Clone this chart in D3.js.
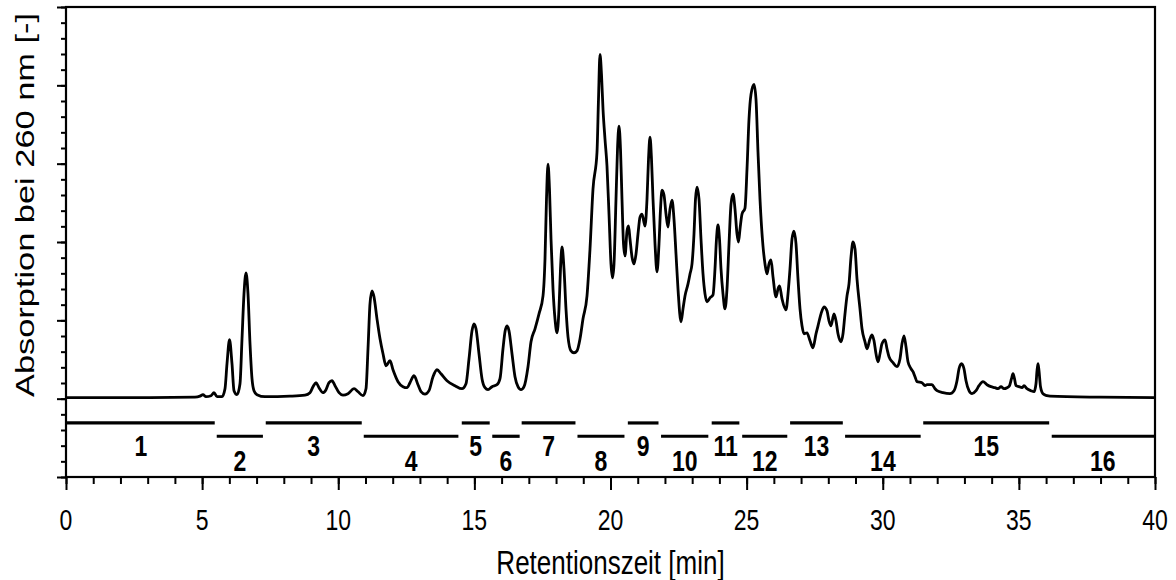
<!DOCTYPE html>
<html><head><meta charset="utf-8">
<script src="https://cdn.jsdelivr.net/npm/d3@7"></script>
<style>body{margin:0;background:#fff}svg{display:block}</style>
</head><body>
<svg id="chart" width="1176" height="580"></svg>
<script>
// Chromatogram trace: [retention time (min), absorption (a.u., 1 = one major tick)]
const trace = [[0,0.013],[3.085,0.013],[4.738,0.019],[4.922,0.032],[5.032,0.051],[5.142,0.025],[5.326,0.038],[5.436,0.076],[5.546,0.025],[5.730,0.025],[5.840,0.127],[5.914,0.446],[6.006,0.752],[6.097,0.446],[6.171,0.102],[6.281,0.051],[6.391,0.191],[6.465,0.764],[6.538,1.338],[6.612,1.605],[6.685,1.338],[6.759,0.701],[6.832,0.255],[6.905,0.102],[7.016,0.051],[7.309,0.025],[8.228,0.032],[8.779,0.045],[8.962,0.076],[9.073,0.153],[9.183,0.204],[9.293,0.140],[9.440,0.076],[9.550,0.115],[9.660,0.204],[9.770,0.229],[9.881,0.166],[10.028,0.076],[10.174,0.045],[10.358,0.064],[10.579,0.127],[10.725,0.089],[10.909,0.038],[11.019,0.127],[11.093,0.637],[11.166,1.210],[11.240,1.376],[11.313,1.299],[11.423,1.019],[11.534,0.764],[11.644,0.573],[11.754,0.420],[11.901,0.484],[12.011,0.369],[12.195,0.217],[12.378,0.153],[12.525,0.140],[12.635,0.204],[12.782,0.293],[12.929,0.178],[13.040,0.089],[13.186,0.057],[13.333,0.102],[13.480,0.280],[13.627,0.369],[13.774,0.318],[13.994,0.229],[14.288,0.166],[14.545,0.127],[14.692,0.191],[14.803,0.510],[14.913,0.866],[14.986,0.955],[15.060,0.892],[15.170,0.573],[15.280,0.255],[15.390,0.140],[15.501,0.115],[15.647,0.153],[15.831,0.178],[15.941,0.255],[16.051,0.637],[16.125,0.854],[16.198,0.930],[16.272,0.866],[16.382,0.573],[16.492,0.280],[16.602,0.153],[16.713,0.115],[16.823,0.153],[16.970,0.408],[17.080,0.726],[17.227,0.892],[17.374,1.083],[17.521,1.312],[17.594,1.783],[17.649,2.548],[17.704,2.994],[17.759,2.675],[17.815,2.038],[17.888,1.401],[17.961,1.019],[18.035,0.841],[18.108,1.146],[18.163,1.656],[18.219,1.936],[18.292,1.656],[18.365,1.146],[18.439,0.790],[18.549,0.611],[18.659,0.586],[18.770,0.611],[18.880,0.764],[18.990,1.019],[19.137,1.312],[19.247,1.911],[19.357,2.675],[19.504,3.146],[19.559,3.822],[19.614,4.395],[19.669,4.140],[19.725,3.694],[19.798,3.312],[19.871,2.968],[19.945,2.357],[20.018,1.720],[20.073,1.541],[20.129,1.720],[20.202,2.548],[20.257,3.185],[20.312,3.478],[20.367,3.185],[20.422,2.548],[20.478,1.975],[20.533,1.822],[20.606,2.140],[20.661,2.204],[20.716,2.038],[20.790,1.809],[20.863,1.720],[20.937,1.847],[21.010,2.102],[21.084,2.318],[21.157,2.357],[21.267,2.204],[21.341,2.548],[21.396,3.057],[21.451,3.338],[21.506,3.057],[21.561,2.548],[21.635,1.975],[21.708,1.618],[21.781,1.975],[21.837,2.420],[21.892,2.662],[21.965,2.599],[22.039,2.357],[22.112,2.191],[22.185,2.420],[22.259,2.535],[22.332,2.293],[22.406,1.847],[22.479,1.401],[22.590,0.981],[22.663,1.146],[22.736,1.312],[22.847,1.465],[22.920,1.592],[22.994,1.720],[23.067,2.102],[23.122,2.548],[23.178,2.701],[23.251,2.548],[23.324,2.038],[23.398,1.592],[23.471,1.338],[23.545,1.236],[23.655,1.287],[23.765,1.325],[23.838,1.656],[23.893,2.038],[23.949,2.217],[24.004,2.038],[24.059,1.656],[24.132,1.338],[24.206,1.146],[24.279,1.401],[24.353,1.975],[24.426,2.484],[24.500,2.611],[24.573,2.420],[24.647,2.102],[24.702,2.000],[24.757,2.166],[24.830,2.357],[24.940,2.433],[25.014,2.930],[25.087,3.567],[25.161,3.885],[25.271,4.013],[25.344,3.822],[25.418,3.146],[25.491,2.548],[25.601,1.949],[25.675,1.720],[25.748,1.592],[25.822,1.720],[25.895,1.771],[25.969,1.554],[26.079,1.299],[26.152,1.401],[26.208,1.439],[26.300,1.274],[26.446,1.134],[26.520,1.338],[26.593,1.656],[26.667,2.038],[26.740,2.140],[26.814,1.975],[26.887,1.529],[26.961,1.146],[27.034,0.930],[27.107,0.828],[27.218,0.841],[27.328,0.739],[27.438,0.650],[27.548,0.828],[27.622,0.930],[27.732,1.083],[27.842,1.172],[27.952,1.121],[28.026,0.994],[28.099,0.930],[28.209,1.083],[28.283,0.994],[28.356,0.828],[28.467,0.726],[28.540,0.828],[28.613,1.083],[28.687,1.312],[28.760,1.465],[28.834,1.809],[28.907,2.000],[28.981,1.911],[29.054,1.529],[29.164,1.146],[29.238,0.892],[29.348,0.726],[29.421,0.637],[29.532,0.764],[29.605,0.815],[29.679,0.739],[29.752,0.573],[29.826,0.471],[29.899,0.573],[29.972,0.701],[30.083,0.751],[30.156,0.637],[30.230,0.535],[30.377,0.459],[30.523,0.408],[30.634,0.510],[30.707,0.701],[30.781,0.802],[30.854,0.662],[30.927,0.471],[31.038,0.382],[31.111,0.344],[31.185,0.280],[31.258,0.217],[31.442,0.204],[31.552,0.166],[31.625,0.178],[31.809,0.178],[31.919,0.127],[31.993,0.102],[32.213,0.076],[32.470,0.064],[32.617,0.102],[32.727,0.229],[32.801,0.382],[32.893,0.446],[32.984,0.382],[33.058,0.229],[33.168,0.102],[33.278,0.064],[33.425,0.102],[33.535,0.166],[33.682,0.217],[33.829,0.178],[33.976,0.153],[34.123,0.140],[34.233,0.127],[34.344,0.153],[34.454,0.127],[34.564,0.140],[34.656,0.166],[34.729,0.255],[34.784,0.318],[34.839,0.255],[34.894,0.166],[35.005,0.153],[35.115,0.140],[35.188,0.166],[35.298,0.127],[35.445,0.102],[35.556,0.089],[35.629,0.191],[35.666,0.357],[35.702,0.446],[35.739,0.357],[35.795,0.153],[35.886,0.064],[36.033,0.038],[36.143,0.032],[37.980,0.019],[40,0.013]];

// Collected fractions
const fractionLabels = ["1","2","3","4","5","6","7","8","9","10","11","12","13","14","15","16"];
const fractionStart = [0, 5.5, 7.3, 10.9, 14.5, 15.62, 16.7, 18.75, 20.6, 21.82, 23.68, 24.8, 26.56, 28.58, 31.45, 36.17];
const fractionEnd   = [5.5, 7.27, 10.9, 14.45, 15.6, 16.7, 18.75, 20.55, 21.8, 23.63, 24.77, 26.53, 28.57, 31.43, 36.15, 40];
const fractionRow   = [0,1,0,1,0,1,0,1,0,1,0,1,0,1,0,1]; // 0 = upper bar, 1 = lower bar
const fractionLevel = [-0.31, -0.48]; // bar heights in y units (upper, lower)

const xMajorTicks = [0,5,10,15,20,25,30,35,40];
const xMinorTicks = d3.range(0, 41, 1);
const yMajorTicks = [-1,0,1,2,3,4,5];
const yMinorTicks = d3.range(-1, 5.0001, 0.2);
const xTitle = "Retentionszeit [min]";
const yTitle = "Absorption bei 260 nm [-]";

const svg = d3.select("#chart");
const L = 66, R = 1155, T = 7, B = 477;
const x = d3.scaleLinear().domain([0, 40]).range([L, R]);
const y = d3.scaleLinear().domain([-1, 5]).range([B, T]);
const FONT = "'Liberation Sans', Arial, Helvetica, sans-serif";
const SY = 1.25; // vertical stretch of glyphs in the original

function styleAxis(g){ g.select(".domain").remove(); g.selectAll("line").attr("stroke","#000").attr("stroke-width",2); g.selectAll("text").remove(); }
svg.append("g").attr("transform",`translate(0,${B})`)
  .call(d3.axisBottom(x).tickValues(xMinorTicks).tickSize(7).tickFormat("")).call(styleAxis);
svg.append("g").attr("transform",`translate(0,${B})`)
  .call(d3.axisBottom(x).tickValues(xMajorTicks).tickSize(13).tickFormat("")).call(styleAxis);
svg.append("g").attr("transform",`translate(${L},0)`)
  .call(d3.axisLeft(y).tickValues(yMinorTicks).tickSize(5).tickFormat("")).call(styleAxis);
svg.append("g").attr("transform",`translate(${L},0)`)
  .call(d3.axisLeft(y).tickValues(yMajorTicks).tickSize(9).tickFormat("")).call(styleAxis);

svg.append("rect").attr("x",L).attr("y",T).attr("width",R-L).attr("height",B-T)
  .attr("fill","none").attr("stroke","#000").attr("stroke-width",2.2);

svg.append("g").selectAll("g").data(xMajorTicks).join("g")
  .attr("transform", d => `translate(${x(d)},530)`)
  .append("text").attr("transform",`scale(1,${SY})`)
  .attr("text-anchor","middle").attr("font-family",FONT).attr("font-size",23).attr("fill","#000")
  .text(d => d);

svg.append("g").attr("transform",`translate(${(L+R)/2},574)`)
  .append("text").attr("transform",`scale(1,${SY})`)
  .attr("text-anchor","middle").attr("font-family",FONT).attr("font-size",26).attr("fill","#000")
  .text(xTitle);

svg.append("text").attr("transform","translate(34,205) rotate(-90)")
  .attr("text-anchor","middle").attr("font-family",FONT).attr("font-size",26).attr("fill","#000")
  .attr("textLength",384).attr("lengthAdjust","spacingAndGlyphs")
  .text(yTitle);

const fr = fractionLabels.map((l,i)=>({l, s:fractionStart[i], e:fractionEnd[i], r:fractionRow[i]}));
svg.append("g").selectAll("line").data(fr).join("line")
  .attr("x1", d => x(d.s)+1).attr("x2", d => x(d.e)-1)
  .attr("y1", d => y(fractionLevel[d.r])).attr("y2", d => y(fractionLevel[d.r]))
  .attr("stroke","#000").attr("stroke-width",3.2);
svg.append("g").selectAll("g").data(fr).join("g")
  .attr("transform", d => `translate(${x((d.s+d.e)/2)},${d.r===0?456:471})`)
  .append("text").attr("transform",`scale(1,${SY})`)
  .attr("text-anchor","middle").attr("font-family",FONT).attr("font-weight","bold")
  .attr("font-size",23).attr("fill","#000").text(d => d.l);

const line = d3.line().x(d => x(d[0])).y(d => y(d[1])).curve(d3.curveMonotoneX);
svg.append("path").datum(trace).attr("d",line)
  .attr("fill","none").attr("stroke","#000").attr("stroke-width",2.8).attr("stroke-linejoin","round");
</script>
</body></html>
